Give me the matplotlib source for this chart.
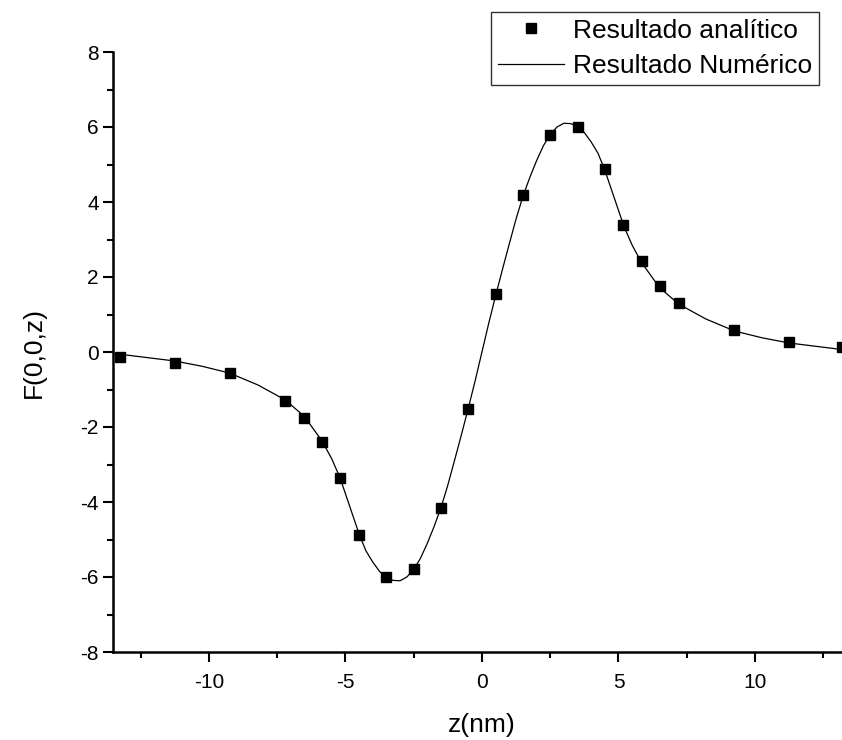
import numpy as np
import matplotlib
matplotlib.use("Agg")
import matplotlib.pyplot as plt
from matplotlib.ticker import MultipleLocator

plt.rcParams['font.family'] = ['Liberation Sans', 'DejaVu Sans']
plt.rcParams['axes.unicode_minus'] = False

# analytic result (squares)
z_analytic = [-13.25, -11.25, -9.22, -7.2, -6.51, -5.85, -5.18, -4.5, -3.5, -2.5, -1.51, -0.51,
              0.5, 1.51, 2.5, 3.5, 4.5, 5.18, 5.85, 6.52, 7.2, 9.22, 11.23, 13.2]
f_analytic = [-0.13, -0.28, -0.57, -1.30, -1.75, -2.41, -3.37, -4.87, -5.99, -5.78, -4.17, -1.53,
              1.54, 4.19, 5.80, 6.01, 4.88, 3.39, 2.42, 1.77, 1.31, 0.59, 0.28, 0.14]

# numerical result (line)
z_numeric = [-13.5, -13.25, -12.25, -11.25, -10.25, -9.25, -8.2, -7.2, -6.5, -5.85, -5.5, -5.2,
             -4.85, -4.5, -4.25, -4.0, -3.75, -3.5, -3.25, -3.0, -2.75, -2.5, -2.25, -2.0,
             -1.75, -1.5, -1.25, -1.0, -0.75, -0.5, -0.25, 0.0,
             0.25, 0.5, 0.75, 1.0, 1.25, 1.5, 1.75, 2.0, 2.25, 2.5, 2.75, 3.0, 3.25, 3.5,
             3.75, 4.0, 4.25, 4.5, 4.85, 5.2, 5.5, 5.85, 6.5, 7.2, 8.2, 9.25, 10.25, 11.25,
             12.25, 13.25, 13.5]
f_numeric = [-0.04, -0.06, -0.15, -0.24, -0.38, -0.56, -0.88, -1.28, -1.72, -2.38, -2.85, -3.35,
             -4.10, -4.85, -5.30, -5.60, -5.85, -6.02, -6.09, -6.10, -6.00, -5.80, -5.50, -5.10,
             -4.65, -4.15, -3.55, -2.88, -2.20, -1.50, -0.77, 0.0,
             0.77, 1.50, 2.20, 2.88, 3.55, 4.15, 4.65, 5.10, 5.50, 5.80, 6.00, 6.10, 6.09, 6.02,
             5.85, 5.60, 5.30, 4.85, 4.10, 3.35, 2.85, 2.38, 1.72, 1.28, 0.88, 0.56, 0.38, 0.24,
             0.15, 0.06, 0.04]

fig = plt.figure(figsize=(8.42, 7.4), dpi=100)
ax = fig.add_axes([113.3 / 842, 88 / 740, 737.3 / 842, 600 / 740])

ax.plot(z_numeric, f_numeric, color='black', lw=0.9, label='Resultado Numérico', zorder=2)
ax.plot(z_analytic, f_analytic, 's', color='black', ms=7.5, label='Resultado analítico', zorder=3)

ax.set_xlim(-13.5, 13.5)
ax.set_ylim(-8, 8)
ax.xaxis.set_major_locator(MultipleLocator(5))
ax.xaxis.set_minor_locator(MultipleLocator(2.5))
ax.yaxis.set_major_locator(MultipleLocator(2))
ax.yaxis.set_minor_locator(MultipleLocator(1))

for side in ['top', 'right']:
    ax.spines[side].set_visible(False)
for side in ['left', 'bottom']:
    ax.spines[side].set_linewidth(1.8)

ax.tick_params(which='major', direction='out', length=7, width=1.5, labelsize=15)
ax.tick_params(which='minor', direction='out', length=4, width=1.5)
ax.tick_params(axis='x', pad=8)

ax.set_xlabel('z(nm)', fontsize=19, labelpad=15)
ax.set_ylabel('F(0,0,z)', fontsize=19, labelpad=25)

handles, labels = ax.get_legend_handles_labels()
leg = fig.legend(handles[::-1], labels[::-1], loc='upper right',
                 bbox_to_anchor=(819 / 842, 1 - 12 / 740), borderaxespad=0,
                 fontsize=19, frameon=True, fancybox=False, handlelength=2.5,
                 handletextpad=0.35, borderpad=0.25, labelspacing=0.45)
leg.get_frame().set_edgecolor('black')
leg.get_frame().set_linewidth(1.0)

fig.savefig('out.png', dpi=100)
